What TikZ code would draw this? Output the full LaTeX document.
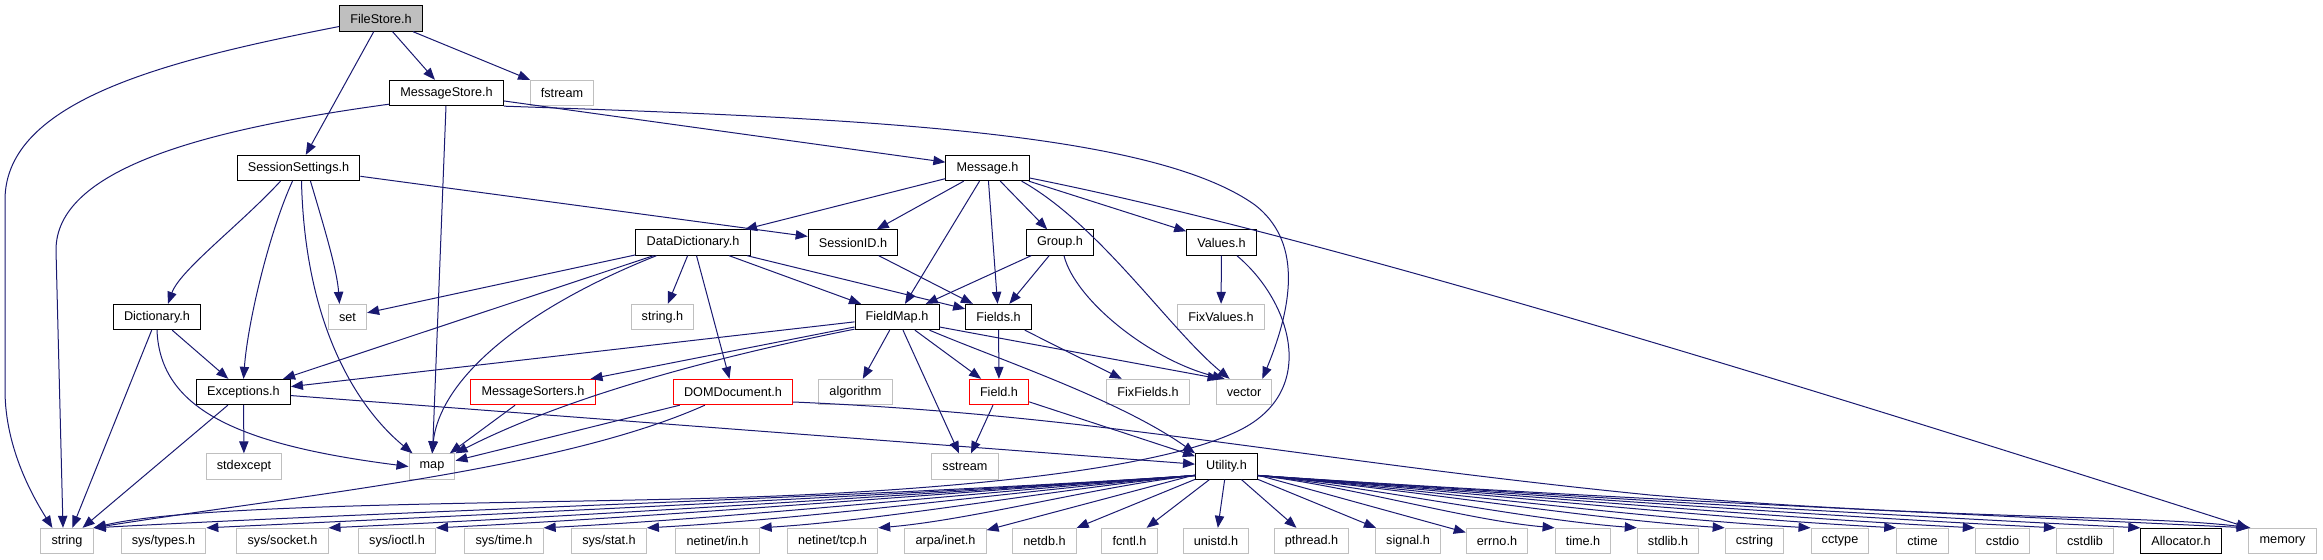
\documentclass[tikz,border=0pt]{standalone}
\usepackage{fontspec}
\setmainfont{Liberation Sans}
\usepackage{xcolor}
\usepackage{tikz}
\usetikzlibrary{arrows.meta,calc}
\definecolor{midblue}{HTML}{191970}
\definecolor{curgray}{HTML}{BFBFBF}
\definecolor{extgray}{HTML}{BFBFBF}
\definecolor{badred}{HTML}{FF0000}

\tikzset{
  hdr/.style={draw=black, line width=0.75pt, fill=white, inner xsep=8pt, inner ysep=0pt, minimum height=19pt, font=\fontsize{9.5}{11}\selectfont},
  syshdr/.style={hdr, draw=extgray},
  redhdr/.style={hdr, draw=badred},
  curhdr/.style={hdr, fill=curgray},
  incl/.style={draw=midblue, line width=0.75pt, -{Triangle[length=9pt,width=7pt]}}
}

\begin{document}
\begin{tikzpicture}[x=0.75pt,y=-0.75pt]
\useasboundingbox (0,0) rectangle (2323,560);

\node[curhdr] (FileStore) at (381,18.5) {FileStore.h};
\node[hdr] (MessageStore) at (446.5,93) {MessageStore.h};
\node[syshdr] (fstream) at (562,93) {fstream};
\node[hdr] (SessionSettings) at (298.5,168) {SessionSettings.h};
\node[hdr] (Message) at (987.5,168) {Message.h};
\node[hdr] (DataDictionary) at (693,242.5) {DataDictionary.h};
\node[hdr] (SessionID) at (853,242.5) {SessionID.h};
\node[hdr] (Group) at (1060,242.5) {Group.h};
\node[hdr] (Values) at (1221.5,242.5) {Values.h};
\node[hdr] (Dictionary) at (157,317) {Dictionary.h};
\node[syshdr] (set) at (347.5,317) {set};
\node[syshdr] (stringh) at (662.5,317) {string.h};
\node[hdr] (FieldMap) at (897,317) {FieldMap.h};
\node[hdr] (Fields) at (998.5,317) {Fields.h};
\node[syshdr] (FixValues) at (1221,317) {FixValues.h};
\node[hdr] (Exceptions) at (243.5,392) {Exceptions.h};
\node[redhdr] (MessageSorters) at (533,392) {MessageSorters.h};
\node[redhdr] (DOMDocument) at (733,392) {DOMDocument.h};
\node[syshdr] (algorithm) at (855.5,392) {algorithm};
\node[redhdr] (Field) at (999,392) {Field.h};
\node[syshdr] (FixFields) at (1148,392) {FixFields.h};
\node[syshdr] (vector) at (1244,392) {vector};
\node[syshdr] (stdexcept) at (244,466.5) {stdexcept};
\node[syshdr] (map) at (432,466.5) {map};
\node[syshdr] (sstream) at (965,466.5) {sstream};
\node[hdr] (Utility) at (1226.5,466.5) {Utility.h};

\node[syshdr] (string) at (67,541) {string};
\node[syshdr] (systypes) at (163.5,541) {sys/types.h};
\node[syshdr] (syssocket) at (282.5,541) {sys/socket.h};
\node[syshdr] (sysioctl) at (397,541) {sys/ioctl.h};
\node[syshdr] (systime) at (504,541) {sys/time.h};
\node[syshdr] (sysstat) at (609,541) {sys/stat.h};
\node[syshdr] (netinetin) at (717.5,541) {netinet/in.h};
\node[syshdr] (netinettcp) at (832.5,541) {netinet/tcp.h};
\node[syshdr] (arpainet) at (945.5,541) {arpa/inet.h};
\node[syshdr] (netdb) at (1044.5,541) {netdb.h};
\node[syshdr] (fcntl) at (1129.5,541) {fcntl.h};
\node[syshdr] (unistd) at (1216,541) {unistd.h};
\node[syshdr] (pthread) at (1311.5,541) {pthread.h};
\node[syshdr] (signal) at (1408,541) {signal.h};
\node[syshdr] (errno) at (1497,541) {errno.h};
\node[syshdr] (timeh) at (1583,541) {time.h};
\node[syshdr] (stdlibh) at (1668,541) {stdlib.h};
\node[syshdr] (cstring) at (1754.5,541) {cstring};
\node[syshdr] (cctype) at (1840,541) {cctype};
\node[syshdr] (ctime) at (1922.5,541) {ctime};
\node[syshdr] (cstdio) at (2002.5,541) {cstdio};
\node[syshdr] (cstdlib) at (2085,541) {cstdlib};
\node[hdr] (Allocator) at (2181,541) {Allocator.h};
\node[syshdr] (memory) at (2282.5,541) {memory};

\draw[incl] (FileStore) -- (MessageStore);
\draw[incl] (FileStore) -- (fstream);
\draw[incl] (FileStore) -- (SessionSettings);
\draw[incl] ($(FileStore.west)+(0,8)$) .. controls (168,60) and (5,100) .. (5,200) -- (5,390) .. controls (5,450) and (35,500) .. ($(string.north west)+(12,0)$);

\draw[incl] ($(MessageStore.south west)+(0,-2)$) .. controls (200,130) and (56,170) .. (56,250) -- ($(string.north)+(-4,0)$);
\draw[incl] (MessageStore) -- (map);
\draw[incl] (MessageStore) -- (Message);
\draw[incl] (MessageStore.south east) .. controls (850,118) and (1150,130) .. (1255,205) .. controls (1300,240) and (1295,300) .. ($(vector.north east)+(-10,0)$);

\draw[incl] ($(SessionSettings.south)+(-18,0)$) .. controls (240,225) and (180,270) .. ($(Dictionary.north)+(11,0)$);
\draw[incl] ($(SessionSettings.south)+(-6,0)$) .. controls (270,230) and (248,320) .. (Exceptions.north);
\draw[incl] ($(SessionSettings.south)+(3,0)$) .. controls (305,330) and (360,410) .. ($(map.north west)+(4,0)$);
\draw[incl] ($(SessionSettings.south)+(12,0)$) .. controls (325,230) and (337,270) .. ($(set.north)+(-8,0)$);
\draw[incl] (SessionSettings) -- (SessionID);

\draw[incl] (Message) -- (DataDictionary);
\draw[incl] (Message) -- (SessionID);
\draw[incl] (Message) -- (FieldMap);
\draw[incl] (Message) -- (Fields);
\draw[incl] (Message) -- (Group);
\draw[incl] (Message) -- (Values);
\draw[incl] ($(Message.south east)+(-8,0)$) .. controls (1100,225) and (1170,330) .. ($(vector.north west)+(14,0)$);
\draw[incl] ($(Message.east)+(0,10)$) .. controls (1250,222) and (1600,320) .. (memory.north west);

\draw[incl] (DataDictionary) -- (set);
\draw[incl] (DataDictionary) -- (Exceptions);
\draw[incl] ($(DataDictionary.south west)+(21,0)$) .. controls (520,310) and (440,380) .. (map.north);
\draw[incl] (DataDictionary) -- (stringh);
\draw[incl] (DataDictionary) -- (DOMDocument);
\draw[incl] (DataDictionary) -- (FieldMap);
\draw[incl] (DataDictionary) -- (Fields);

\draw[incl] (SessionID) -- (Fields);
\draw[incl] (Group) -- (FieldMap);
\draw[incl] (Group) -- (Fields);
\draw[incl] ($(Group.south)+(4,0)$) .. controls (1075,300) and (1150,360) .. ($(vector.north west)+(9,0)$);
\draw[incl] (Values) -- (FixValues);
\draw[incl] ($(Values.south east)+(-20,0)$) .. controls (1290,300) and (1320,390) .. (1240,430) .. controls (1160,470) and (950,490) .. (750,497) .. controls (550,504) and (200,502) .. (string.north east);

\draw[incl] (Dictionary) -- (string);
\draw[incl] (Dictionary) -- (Exceptions);
\draw[incl] (Dictionary.south) .. controls (160,410) and (240,445) .. (map.west);

\draw[incl] (FieldMap) -- (Exceptions);
\draw[incl] ($(FieldMap.west)+(0,10)$) -- ($(MessageSorters.north east)+(-5,0)$);
\draw[incl] ($(FieldMap.south west)+(0,-1)$) .. controls (700,360) and (560,400) .. (map.north east);
\draw[incl] (FieldMap) -- (algorithm);
\draw[incl] (FieldMap) -- (sstream);
\draw[incl] (FieldMap) -- (Field);
\draw[incl] ($(FieldMap.south east)+(-10,0)$) .. controls (1000,360) and (1120,400) .. (Utility.north west);
\draw[incl] ($(FieldMap.east)+(0,10)$) -- ($(vector.north west)+(4,0)$);

\draw[incl] (Fields) -- (Field);
\draw[incl] (Fields) -- (FixFields);
\draw[incl] (Field) -- (sstream);
\draw[incl] (Field) -- (Utility);

\draw[incl] (MessageSorters) -- (map);
\draw[incl] (DOMDocument) -- (map);
\draw[incl] ($(DOMDocument.south west)+(32,0)$) .. controls (560,470) and (300,495) .. (string.north east);
\draw[incl] ($(DOMDocument.east)+(0,10)$) .. controls (1100,415) and (1300,460) .. (1650,495) .. controls (1950,520) and (2150,515) .. ($(memory.north west)+(2,0)$);

\draw[incl] (Exceptions) -- (string);
\draw[incl] (Exceptions) -- (stdexcept);
\draw[incl] (Exceptions) -- (Utility);

\draw[incl] ($(Utility.west)+(0,9)$) .. controls +(-330,22) and +(330,-18) .. (string.north east);
\draw[incl] ($(Utility.west)+(0,9)$) .. controls +(-295,20) and +(295,-14) .. (systypes.north east);
\draw[incl] ($(Utility.west)+(0,9)$) .. controls +(-260,18) and +(260,-12) .. (syssocket.north east);
\draw[incl] ($(Utility.west)+(0,9)$) .. controls +(-225,16) and +(225,-11) .. (sysioctl.north east);
\draw[incl] ($(Utility.west)+(0,9)$) .. controls +(-195,15) and +(195,-10) .. (systime.north east);
\draw[incl] ($(Utility.west)+(0,9)$) .. controls +(-165,14) and +(165,-9) .. (sysstat.north east);
\draw[incl] ($(Utility.west)+(0,9)$) .. controls +(-130,12) and +(130,-8) .. (netinetin.north east);
\draw[incl] ($(Utility.west)+(0,9)$) .. controls +(-95,10) and +(95,-8) .. (netinettcp.north east);
\draw[incl] (Utility) -- (arpainet);
\draw[incl] (Utility) -- (netdb);
\draw[incl] (Utility) -- (fcntl);
\draw[incl] (Utility) -- (unistd);
\draw[incl] (Utility) -- (pthread);
\draw[incl] (Utility) -- (signal);
\draw[incl] (Utility) -- (errno);
\draw[incl] ($(Utility.east)+(0,9)$) .. controls +(90,10) and +(-90,-8) .. (timeh.north west);
\draw[incl] ($(Utility.east)+(0,9)$) .. controls +(110,11) and +(-110,-8) .. (stdlibh.north west);
\draw[incl] ($(Utility.east)+(0,9)$) .. controls +(140,12) and +(-140,-9) .. (cstring.north west);
\draw[incl] ($(Utility.east)+(0,9)$) .. controls +(165,14) and +(-165,-9) .. (cctype.north west);
\draw[incl] ($(Utility.east)+(0,9)$) .. controls +(190,15) and +(-190,-10) .. (ctime.north west);
\draw[incl] ($(Utility.east)+(0,9)$) .. controls +(215,16) and +(-215,-11) .. (cstdio.north west);
\draw[incl] ($(Utility.east)+(0,9)$) .. controls +(240,17) and +(-240,-12) .. (cstdlib.north west);
\draw[incl] ($(Utility.east)+(0,9)$) .. controls +(265,18) and +(-265,-13) .. (Allocator.north west);
\draw[incl] ($(Utility.east)+(0,9)$) .. controls +(295,20) and +(-295,-14) .. (memory.north west);
\end{tikzpicture}
\end{document}
